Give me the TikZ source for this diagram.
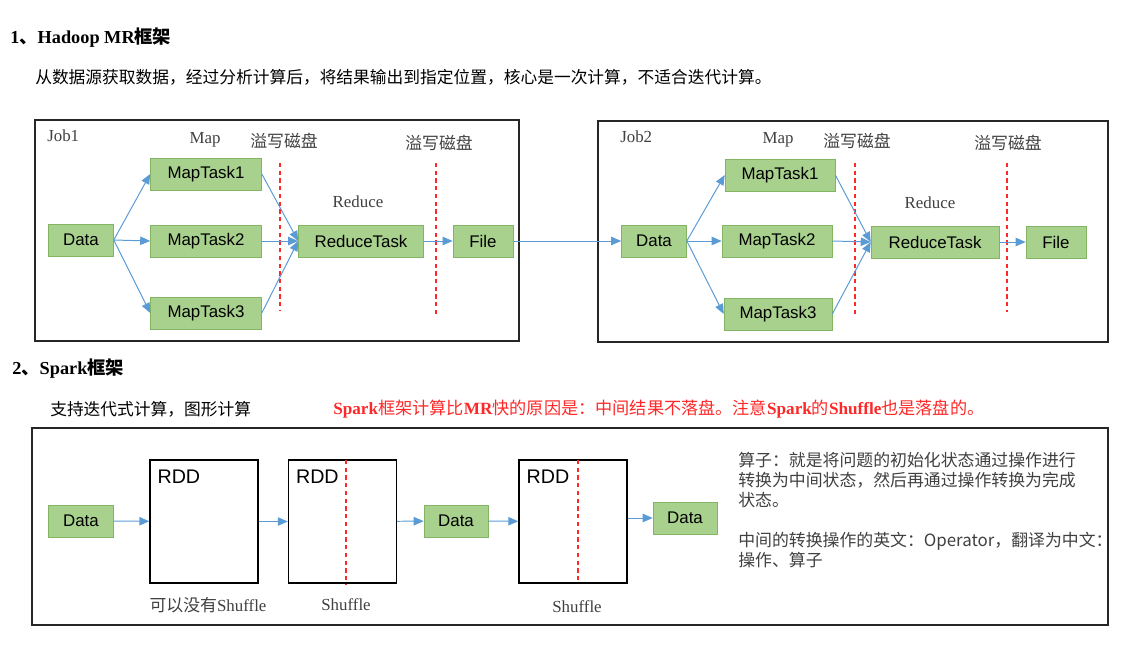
\documentclass[tikz,border=0pt]{standalone}
\usepackage{fontspec}
\setmainfont{Liberation Serif}
\setsansfont{Liberation Sans}
\newfontfamily\cjk{Noto Sans CJK SC}
\newcommand{\zh}[1]{{\cjk #1}}
\usetikzlibrary{arrows.meta,positioning}
\definecolor{boxgreen}{RGB}{169,209,142}
\definecolor{boxedge}{RGB}{130,180,100}
\definecolor{flowblue}{RGB}{91,155,213}
\definecolor{spillred}{RGB}{255,40,40}
\definecolor{notegray}{RGB}{64,64,64}

\begin{document}
\begin{tikzpicture}[
  x=0.025cm, y=-0.025cm,
  task/.style={draw=boxedge,fill=boxgreen,minimum height=0.8cm,inner sep=0pt,font=\sffamily\fontsize{12}{13}\selectfont},
  frame/.style={draw=black!85,line width=1.2pt},
  rdd/.style={draw=black,line width=1pt,minimum width=2.7cm,minimum height=3.075cm,inner sep=0pt},
  rddtxt/.style={anchor=north west,inner sep=0pt,font=\sffamily\fontsize{14}{15}\selectfont},
  flow/.style={-{Triangle[length=2.5mm,width=2.1mm]},draw=flowblue,line width=0.7pt},
  spill/.style={draw=spillred,line width=1.1pt,dash pattern=on 3pt off 2.5pt},
  lbl/.style={inner sep=0pt,text=notegray,font=\fontsize{12}{13}\selectfont},
  zhlbl/.style={inner sep=0pt,text=notegray,font=\cjk\fontsize{12}{13}\selectfont},
  head/.style={anchor=west,inner sep=0pt,font=\bfseries\fontsize{13}{15}\selectfont},
  para/.style={anchor=west,inner sep=0pt,font=\cjk\fontsize{11.9}{14}\selectfont}
]
\useasboundingbox (0,0) rectangle (1130,645);

% headings
\node[head] (t1) at (10,38) {1\zh{、}Hadoop MR\zh{框架}};
\node[para] (t1sub) at (35,77) {从数据源获取数据，经过分析计算后，将结果输出到指定位置，核心是一次计算，不适合迭代计算。};

% Job1
\draw[frame] (35,120) rectangle (519,341);
\node[lbl,anchor=west] (j1) at (47,136) {Job1};
\node[lbl] (j1map) at (205,140) {Map};
\node[lbl] (j1red) at (358,202) {Reduce};
\node[zhlbl] (j1s1) at (284,141) {溢写磁盘};
\node[zhlbl] (j1s2) at (439,143) {溢写磁盘};

\node[task,minimum width=1.625cm] (d1) at (81,240) {Data};
\node[task,minimum width=2.775cm] (m11) at (206,174) {MapTask1};
\node[task,minimum width=2.775cm] (m12) at (206,241) {MapTask2};
\node[task,minimum width=2.775cm] (m13) at (206,313) {MapTask3};
\node[task,minimum width=3.125cm] (r1) at (361,241) {ReduceTask};
\node[task,minimum width=1.5cm] (f1) at (483,241) {File};

\draw[spill] (280,163) -- (280,310);
\draw[spill] (436,163) -- (436,315);

\foreach \m in {m11,m12,m13} {
  \draw[flow] (d1.east) -- (\m.west);
  \draw[flow] (\m.east) -- (r1.west);
}
\draw[flow] (r1) -- (f1);

% Job2
\draw[frame] (598,121) rectangle (1108,342);
\node[lbl,anchor=west] (j2) at (620,137) {Job2};
\node[lbl] (j2map) at (778,140) {Map};
\node[lbl] (j2red) at (930,203) {Reduce};
\node[zhlbl] (j2s1) at (857,141) {溢写磁盘};
\node[zhlbl] (j2s2) at (1008,143) {溢写磁盘};

\node[task,minimum width=1.625cm] (d2) at (654,241) {Data};
\node[task,minimum width=2.75cm] (m21) at (780,175) {MapTask1};
\node[task,minimum width=2.75cm] (m22) at (777,241) {MapTask2};
\node[task,minimum width=2.7cm] (m23) at (778,314) {MapTask3};
\node[task,minimum width=3.2cm] (r2) at (935,242) {ReduceTask};
\node[task,minimum width=1.5cm] (f2) at (1056,242) {File};

\draw[spill] (855,163) -- (855,315);
\draw[spill] (1007,163) -- (1007,312);

\foreach \m in {m21,m22,m23} {
  \draw[flow] (d2.east) -- (\m.west);
  \draw[flow] (\m.east) -- (r2.west);
}
\draw[flow] (r2) -- (f2);
\draw[flow] (f1) -- (d2);

% Spark
\node[head] (t2) at (12,369) {2\zh{、}Spark\zh{框架}};
\node[para] (t2sub) at (50,409) {支持迭代式计算，图形计算};
\node[anchor=west,inner sep=0pt,text=spillred,font=\fontsize{12.2}{14}\selectfont] (t2note) at (333,409)
  {\textbf{Spark}\zh{框架计算比}\textbf{MR}\zh{快的原因是：中间结果不落盘。注意}\textbf{Spark}\zh{的}\textbf{Shuffle}\zh{也是落盘的。}};

\draw[frame] (32,428) rectangle (1108,625);
\node[task,minimum width=1.625cm] (s1) at (81,521) {Data};
\node[rdd] (rdd1) at (204,521.5) {};
\node[rdd] (rdd2) at (342.5,521.5) {};
\node[task,minimum width=1.6cm] (s2) at (456,521) {Data};
\node[rdd] (rdd3) at (573,521.5) {};
\node[task,minimum width=1.6cm] (s3) at (685,518) {Data};

\node[rddtxt] (rdd1t) at ([shift={(0.2cm,-0.25cm)}]rdd1.north west) {RDD};
\node[rddtxt] (rdd2t) at ([shift={(0.2cm,-0.25cm)}]rdd2.north west) {RDD};
\node[rddtxt] (rdd3t) at ([shift={(0.2cm,-0.25cm)}]rdd3.north west) {RDD};

\draw[spill] (346,460) -- (346,585);
\draw[spill] (578,460) -- (578,583);

\draw[flow] (s1) -- (rdd1);
\draw[flow] (rdd1) -- (rdd2);
\draw[flow] (rdd2) -- (s2);
\draw[flow] (s2) -- (rdd3);
\draw[flow] (rdd3.east |- s3) -- (s3);

\node[lbl] (sh1) at (208,605) {\zh{可以没有}Shuffle};
\node[lbl] (sh2) at (346,605) {Shuffle};
\node[lbl] (sh3) at (577,607) {Shuffle};

\node[anchor=north west,align=left,inner sep=0pt,text=notegray,font=\cjk\fontsize{12}{14.2}\selectfont] (op) at (738,452)
  {算子：就是将问题的初始化状态通过操作进行\\转换为中间状态，然后再通过操作转换为完成\\状态。\\[14.2pt]中间的转换操作的英文：Operator，翻译为中文：\\操作、算子};
\end{tikzpicture}
\end{document}
